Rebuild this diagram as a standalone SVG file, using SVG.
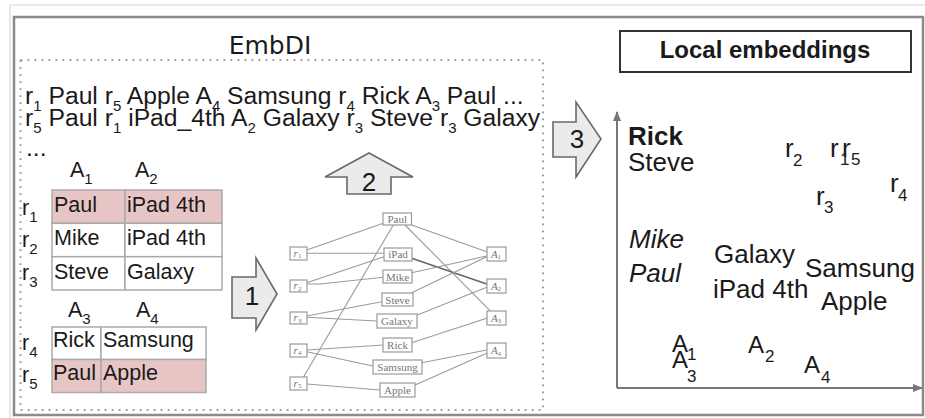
<svg xmlns="http://www.w3.org/2000/svg" width="925" height="418" viewBox="0 0 925 418">
<defs>
<style>
.t{font-family:"Liberation Sans",Arial,sans-serif;fill:#1a1a1a}
.seq{font-size:24.7px}
.sub{font-size:15px}
.tb{font-size:21.5px}
.rp{font-size:26px}
.rs{font-size:17px}
.cell{fill:#fff;stroke:#aaa;stroke-width:1.5}
.pink{fill:#e8c5c5;stroke:#aaa;stroke-width:1.5}
.arr{fill:#ebebeb;stroke:#6a6a6a;stroke-width:1.6;stroke-linejoin:miter}
.num{font-family:"Liberation Sans",Arial,sans-serif;font-size:26px;fill:#1a1a1a;text-anchor:middle}
.gb{fill:#fff;stroke:#9a9a9a;stroke-width:1.2}
.gl{stroke:#9a9a9a;stroke-width:1.1;fill:none}
.gt{font-family:"Liberation Serif","Times New Roman",serif;font-size:11px;fill:#777;text-anchor:middle}
.gi{font-style:italic}
</style>
<marker id="ah" viewBox="0 0 10 10" refX="9" refY="5" markerWidth="5" markerHeight="5" orient="auto-start-reverse" markerUnits="strokeWidth">
<path d="M0,1 L10,5 L0,9 z" fill="#777"/>
</marker>
</defs>
<rect width="925" height="418" fill="#fff"/>
<path d="M10,418 V5 H925" fill="none" stroke="#d6d6d6" stroke-width="1.2"/>
<rect x="14" y="17" width="909" height="398" fill="none" stroke="#8a8a8a" stroke-width="2.5"/>
<rect x="20.5" y="60" width="522.5" height="350" fill="none" stroke="#9a9a9a" stroke-width="2" stroke-dasharray="1.8 5.2"/>
<text x="270" y="54" text-anchor="middle" style="font-family:'DejaVu Sans',sans-serif;font-size:25px;fill:#1a1a1a">EmbDI</text>

<g id="walks">
<text class="t seq" x="25" y="104">r<tspan class="sub" dy="7">1</tspan><tspan dy="-7"> Paul r</tspan><tspan class="sub" dy="7">5</tspan><tspan dy="-7"> Apple A</tspan><tspan class="sub" dy="7">4</tspan><tspan dy="-7"> Samsung r</tspan><tspan class="sub" dy="7">4</tspan><tspan dy="-7"> Rick A</tspan><tspan class="sub" dy="7">3</tspan><tspan dy="-7"> Paul ...</tspan></text>
<text class="t seq" x="25" y="126">r<tspan class="sub" dy="7">5</tspan><tspan dy="-7"> Paul r</tspan><tspan class="sub" dy="7">1</tspan><tspan dy="-7"> iPad_4th A</tspan><tspan class="sub" dy="7">2</tspan><tspan dy="-7"> Galaxy r</tspan><tspan class="sub" dy="7">3</tspan><tspan dy="-7"> Steve r</tspan><tspan class="sub" dy="7">3</tspan><tspan dy="-7"> Galaxy</tspan></text>
<text class="t seq" x="26" y="156">...</text>
</g>

<g id="table1">
<rect class="pink" x="52" y="190" width="73" height="33.3"/>
<rect class="pink" x="125" y="190" width="97" height="33.3"/>
<rect class="cell" x="52" y="223.3" width="73" height="33.4"/>
<rect class="cell" x="125" y="223.3" width="97" height="33.4"/>
<rect class="cell" x="52" y="256.7" width="73" height="33.3"/>
<rect class="cell" x="125" y="256.7" width="97" height="33.3"/>
<text class="t tb" x="70" y="177">A<tspan class="sub" dy="7">1</tspan></text>
<text class="t tb" x="135" y="177">A<tspan class="sub" dy="7">2</tspan></text>
<text class="t tb" x="22" y="215">r<tspan class="sub" dy="7">1</tspan></text>
<text class="t tb" x="22" y="247">r<tspan class="sub" dy="7">2</tspan></text>
<text class="t tb" x="22" y="280">r<tspan class="sub" dy="7">3</tspan></text>
<text class="t tb" x="54" y="212">Paul</text>
<text class="t tb" x="127" y="212">iPad 4th</text>
<text class="t tb" x="54" y="245">Mike</text>
<text class="t tb" x="127" y="245">iPad 4th</text>
<text class="t tb" x="54" y="279">Steve</text>
<text class="t tb" x="127" y="279">Galaxy</text>
</g>

<g id="table2">
<rect class="cell" x="52" y="327" width="49" height="32.5"/>
<rect class="cell" x="101" y="327" width="105" height="32.5"/>
<rect class="pink" x="52" y="359.5" width="49" height="33"/>
<rect class="pink" x="101" y="359.5" width="105" height="33"/>
<text class="t tb" x="68" y="317">A<tspan class="sub" dy="7">3</tspan></text>
<text class="t tb" x="136" y="317">A<tspan class="sub" dy="7">4</tspan></text>
<text class="t tb" x="22" y="350">r<tspan class="sub" dy="7">4</tspan></text>
<text class="t tb" x="22" y="382">r<tspan class="sub" dy="7">5</tspan></text>
<text class="t tb" x="53" y="347">Rick</text>
<text class="t tb" x="103" y="347">Samsung</text>
<text class="t tb" x="53" y="380">Paul</text>
<text class="t tb" x="103" y="380">Apple</text>
</g>

<g id="arrow1">
<polygon class="arr" points="232,277 256,277 256,258 277,294 256,330 256,318 232,318"/>
<text class="num" x="252" y="305">1</text>
</g>
<g id="arrow2">
<polygon class="arr" points="369,153 413,177 391,177 391,194 347,194 347,177 325,177"/>
<text class="num" x="369" y="191">2</text>
</g>
<g id="arrow3">
<polygon class="arr" points="553,122 576,122 576,102 601,139 576,177 576,157 553,157"/>
<text class="num" x="577" y="148">3</text>
</g>

<g id="graph-edges">
<line class="gl" x1="306.7" y1="250" x2="383.3" y2="223.3"/>
<line class="gl" x1="306.7" y1="253.3" x2="384" y2="253.3"/>
<line class="gl" x1="306.7" y1="282.7" x2="384" y2="256.7"/>
<polyline class="gl" points="306.7,284 320,284 383.3,277.3"/>
<line class="gl" x1="306.7" y1="316" x2="381.7" y2="301.7"/>
<line class="gl" x1="306.7" y1="317.3" x2="376.7" y2="321"/>
<line class="gl" x1="306.7" y1="350" x2="383.3" y2="345"/>
<line class="gl" x1="306.7" y1="351.7" x2="372.7" y2="366"/>
<line class="gl" x1="306.7" y1="384" x2="380" y2="390"/>
<line class="gl" x1="303.3" y1="377.3" x2="393.3" y2="225"/>
<line class="gl" x1="411.7" y1="225" x2="486.7" y2="251.7"/>
<line class="gl" x1="405" y1="225" x2="490" y2="310.7"/>
<line class="gl" x1="411.7" y1="258.3" x2="486.7" y2="284" style="stroke:#666;stroke-width:1.5"/>
<line class="gl" x1="411.7" y1="272.7" x2="486.7" y2="256"/>
<line class="gl" x1="411.7" y1="292.7" x2="486.7" y2="256.7"/>
<line class="gl" x1="417.3" y1="315" x2="486.7" y2="287.3"/>
<line class="gl" x1="411.7" y1="342.7" x2="486.7" y2="318.3"/>
<line class="gl" x1="421.7" y1="362.7" x2="486.7" y2="350"/>
<line class="gl" x1="415" y1="385" x2="486.7" y2="353.3"/>
</g>

<g id="n-paul"><rect class="gb" x="383" y="213" width="28.5" height="12"/><text class="gt" x="397.2" y="222.5">Paul</text></g>
<g id="n-ipad"><rect class="gb" x="384" y="248" width="28" height="13"/><text class="gt" x="398" y="258">iPad</text></g>
<g id="n-mike"><rect class="gb" x="383" y="270" width="29" height="13"/><text class="gt" x="397.5" y="280.5">Mike</text></g>
<g id="n-steve"><rect class="gb" x="382" y="293" width="31" height="13"/><text class="gt" x="397.5" y="303.5">Steve</text></g>
<g id="n-galaxy"><rect class="gb" x="377" y="314" width="40" height="14"/><text class="gt" x="397" y="325">Galaxy</text></g>
<g id="n-rick"><rect class="gb" x="383" y="338" width="29" height="14"/><text class="gt" x="397.5" y="349">Rick</text></g>
<g id="n-samsung"><rect class="gb" x="373" y="360" width="49" height="14"/><text class="gt" x="397.5" y="371">Samsung</text></g>
<g id="n-apple"><rect class="gb" x="380" y="383" width="35" height="14"/><text class="gt" x="397.5" y="394">Apple</text></g>
<g id="n-r1"><rect class="gb" x="290" y="247" width="17" height="13"/><text class="gt gi" x="297.5" y="256.5">r<tspan font-size="7" font-style="normal" dy="1.5">1</tspan></text></g>
<g id="n-r2"><rect class="gb" x="290" y="280" width="17" height="12"/><text class="gt gi" x="297.5" y="289">r<tspan font-size="7" font-style="normal" dy="1.5">2</tspan></text></g>
<g id="n-r3"><rect class="gb" x="290" y="312" width="17" height="12"/><text class="gt gi" x="297.5" y="321">r<tspan font-size="7" font-style="normal" dy="1.5">3</tspan></text></g>
<g id="n-r4"><rect class="gb" x="290" y="344" width="17" height="13"/><text class="gt gi" x="297.5" y="353.5">r<tspan font-size="7" font-style="normal" dy="1.5">4</tspan></text></g>
<g id="n-r5"><rect class="gb" x="290" y="377" width="17" height="13"/><text class="gt gi" x="297.5" y="386.5">r<tspan font-size="7" font-style="normal" dy="1.5">5</tspan></text></g>
<g id="n-a1"><rect class="gb" x="487" y="247" width="19" height="14"/><text class="gt gi" x="496" y="257.5">A<tspan font-size="7" font-style="normal" dy="1.5">1</tspan></text></g>
<g id="n-a2"><rect class="gb" x="487" y="279" width="19" height="14"/><text class="gt gi" x="496" y="289.5">A<tspan font-size="7" font-style="normal" dy="1.5">2</tspan></text></g>
<g id="n-a3"><rect class="gb" x="487" y="311" width="19" height="14"/><text class="gt gi" x="496" y="321.5">A<tspan font-size="7" font-style="normal" dy="1.5">3</tspan></text></g>
<g id="n-a4"><rect class="gb" x="487" y="343" width="19" height="15"/><text class="gt gi" x="496" y="354">A<tspan font-size="7" font-style="normal" dy="1.5">4</tspan></text></g>

<g id="local-embeddings">
<rect x="620" y="31" width="291" height="41" fill="#fff" stroke="#333" stroke-width="2"/>
<text class="t" x="765" y="58" text-anchor="middle" style="font-size:24px;font-weight:bold">Local embeddings</text>
</g>

<g id="axes">
<line x1="617" y1="388" x2="617" y2="112" stroke="#777" stroke-width="2" marker-end="url(#ah)"/>
<line x1="617" y1="388" x2="922" y2="388" stroke="#777" stroke-width="2" marker-end="url(#ah)"/>
</g>

<g id="points">
<text class="t rp" x="628" y="145" font-weight="bold">Rick</text>
<text class="t rp" x="628" y="171">Steve</text>
<text class="t rp" x="629" y="248" font-style="italic">Mike</text>
<text class="t rp" x="629" y="282" font-style="italic">Paul</text>
<text class="t rp" x="714" y="263">Galaxy</text>
<text class="t rp" x="713" y="298">iPad 4th</text>
<text class="t rp" x="805" y="277">Samsung</text>
<text class="t rp" x="821" y="310">Apple</text>
<text class="t rp" x="785" y="157">r</text><text class="t rs" x="793" y="166">2</text>
<text class="t rp" x="830" y="157">r</text><text class="t rs" x="840" y="165">1</text>
<text class="t rp" x="842" y="157">r</text><text class="t rs" x="851" y="165">5</text>
<text class="t rp" x="816" y="205">r</text><text class="t rs" x="824" y="213">3</text>
<text class="t rp" x="890" y="192">r</text><text class="t rs" x="898" y="201">4</text>
<text class="t rp" x="672" y="352" style="font-size:24px">A</text><text class="t rs" x="687" y="360">1</text>
<text class="t rp" x="672" y="368" style="font-size:24px">A</text><text class="t rs" x="687" y="382">3</text>
<text class="t rp" x="748" y="353" style="font-size:24px">A</text><text class="t rs" x="765" y="362">2</text>
<text class="t rp" x="804" y="373" style="font-size:24px">A</text><text class="t rs" x="821" y="383">4</text>
</g>
</svg>
